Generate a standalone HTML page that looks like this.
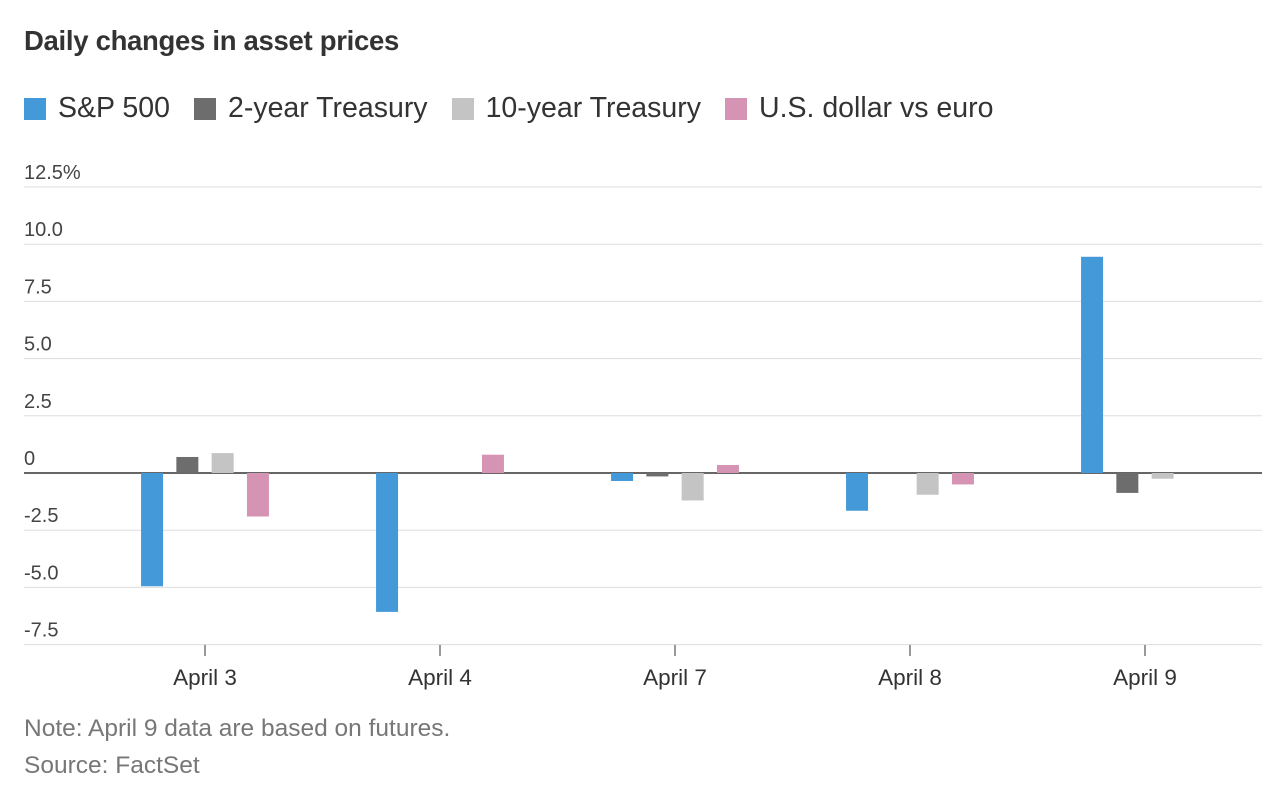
<!DOCTYPE html>
<html><head><meta charset="utf-8">
<style>
body{margin:0;width:1288px;height:800px;background:#fff;font-family:"Liberation Sans",sans-serif;overflow:hidden}
#title{position:absolute;left:24px;top:25px;font-size:27.5px;font-weight:bold;color:#333;letter-spacing:-0.3px}
#legend{position:absolute;left:24px;top:92px;font-size:28.5px;color:#333;display:flex}
.le{display:flex;align-items:center;margin-right:24px}
.sw{width:22px;height:22px;margin-right:12px}
.note{position:absolute;left:24px;font-size:24.5px;color:#777}
</style></head><body>
<div id="title">Daily changes in asset prices</div>
<div id="legend">
<div class="le"><div class="sw" style="background:#4499d9"></div>S&amp;P 500</div>
<div class="le"><div class="sw" style="background:#6d6d6d"></div>2-year Treasury</div>
<div class="le"><div class="sw" style="background:#c4c4c4"></div>10-year Treasury</div>
<div class="le"><div class="sw" style="background:#d694b4"></div>U.S. dollar vs euro</div>
</div>
<svg id="chart" width="1288" height="800" style="position:absolute;left:0;top:0"></svg>
<div class="note" style="top:715px">Note: April 9 data are based on futures.</div>
<div class="note" style="top:752px">Source: FactSet</div>
<script>
const categories=["April 3","April 4","April 7","April 8","April 9"];
const sp500=[-4.95,-6.07,-0.35,-1.65,9.45];
const t2yr=[0.7,0,-0.15,0,-0.87];
const t10yr=[0.87,0,-1.2,-0.95,-0.25];
const usd=[-1.9,0.8,0.35,-0.5,0];
const yTicks=[12.5,10,7.5,5,2.5,0,-2.5,-5,-7.5];
const yLabels=["12.5%","10.0","7.5","5.0","2.5","0","-2.5","-5.0","-7.5"];
const series=[sp500,t2yr,t10yr,usd];
const colors=["#4499d9","#6d6d6d","#c4c4c4","#d694b4"];
const names=["sp500","2yr","10yr","usd"];
const svg=document.getElementById('chart');
const NS="http://www.w3.org/2000/svg";
const y=v=>473-v*22.88;
const x=i=>205+i*235;
function mk(t,a){const e=document.createElementNS(NS,t);for(const k in a)e.setAttribute(k,a[k]);svg.appendChild(e);return e;}
yTicks.forEach((v,i)=>{
 const l=mk('line',{x1:24,x2:1262,y1:y(v),y2:y(v),stroke:v===0?'#333':'#ddd','stroke-width':v===0?1.5:1});
 
 
 const t=mk('text',{x:24,y:y(v)-8,'font-size':20,fill:'#444','font-family':'Liberation Sans, sans-serif'});
 t.textContent=yLabels[i];
 
 
});
categories.forEach((c,i)=>{
 const tk=mk('line',{x1:x(i),x2:x(i),y1:645,y2:656,stroke:'#333','stroke-width':1});
 
 
 const t=mk('text',{x:x(i),y:685,'font-size':22.5,fill:'#333','text-anchor':'middle','font-family':'Liberation Sans, sans-serif'});
 t.textContent=c;
 
 
 series.forEach((s,j)=>{
  const v=s[i]; if(v===0)return;
  const cx=x(i)+(j-1.5)*35.3;
  const r=mk('rect',{x:cx-11,width:22,y:Math.min(y(v),y(0)),height:Math.abs(y(v)-y(0)),fill:colors[j]});
  
  
 });
});
</script>
</body></html>
